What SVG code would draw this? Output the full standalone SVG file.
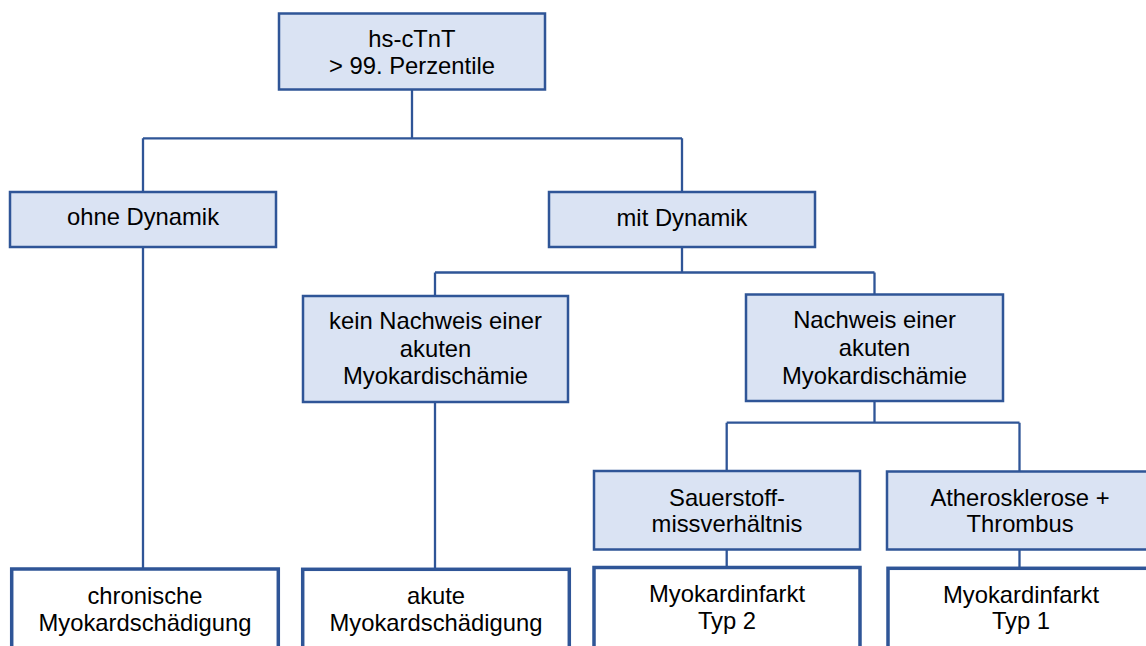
<svg xmlns="http://www.w3.org/2000/svg" width="1146" height="646" viewBox="0 0 1146 646">
<style>
.box{fill:#DAE3F3;stroke:#2F5597;stroke-width:2.5}
.res{fill:#FFFFFF;stroke:#2F5597;stroke-width:3.5}
.con{fill:none;stroke:#2F5597;stroke-width:2.3}
text{font-family:"Liberation Sans",Arial,sans-serif;font-size:23.8px;fill:#000;text-anchor:middle}
</style>
<rect width="1146" height="646" fill="#FFFFFF"/>
<g id="connectors">
<path class="con" d="M412 89.5 V138.3 M143 138.3 H682 M143 138.3 V192 M682 138.3 V192"/>
<path class="con" d="M143 247 V569"/>
<path class="con" d="M682 247 V272.5 M435 272.5 H874.5 M435 272.5 V296 M874.5 272.5 V294.5"/>
<path class="con" d="M435 402 V569"/>
<path class="con" d="M874.5 401 V422.7 M726.7 422.7 H1019.5 M726.7 422.7 V471 M1019.5 422.7 V471"/>
<path class="con" d="M726.7 549.5 V567.5 M1019.5 549.5 V568"/>
</g>
<g id="top">
<rect class="box" x="279" y="13.5" width="266" height="76"/>
<text x="412" y="46.7">hs-cTnT</text>
<text x="412" y="74">&gt; 99. Perzentile</text>
</g>
<g id="ohne">
<rect class="box" x="10" y="192" width="266" height="55"/>
<text x="143" y="225">ohne Dynamik</text>
</g>
<g id="mit">
<rect class="box" x="549" y="192" width="266" height="55"/>
<text x="682" y="226">mit Dynamik</text>
</g>
<g id="kein">
<rect class="box" x="303" y="296" width="265" height="106"/>
<text x="435.5" y="328.5">kein Nachweis einer</text>
<text x="435.5" y="356.5">akuten</text>
<text x="435.5" y="384">Myokardischämie</text>
</g>
<g id="nachweis">
<rect class="box" x="746" y="294.5" width="257" height="106.5"/>
<text x="874.5" y="328.3">Nachweis einer</text>
<text x="874.5" y="356">akuten</text>
<text x="874.5" y="383.5">Myokardischämie</text>
</g>
<g id="sauerstoff">
<rect class="box" x="594" y="471" width="266" height="78.5"/>
<text x="727" y="506">Sauerstoff-</text>
<text x="727" y="532">missverhältnis</text>
</g>
<g id="athero">
<rect class="box" x="887" y="471.5" width="266" height="78"/>
<text x="1020" y="506">Atherosklerose +</text>
<text x="1020" y="532">Thrombus</text>
</g>
<g id="chronisch">
<rect class="res" x="11.7" y="569" width="266.6" height="100"/>
<text x="145" y="604">chronische</text>
<text x="145" y="630.5">Myokardschädigung</text>
</g>
<g id="akut">
<rect class="res" x="302.7" y="569.3" width="266.6" height="100"/>
<text x="436" y="604">akute</text>
<text x="436" y="630.5">Myokardschädigung</text>
</g>
<g id="typ2">
<rect class="res" x="594" y="567.5" width="266" height="100"/>
<text x="727" y="602">Myokardinfarkt</text>
<text x="727" y="629">Typ 2</text>
</g>
<g id="typ1">
<rect class="res" x="888" y="568.3" width="266" height="100"/>
<text x="1021" y="602.5">Myokardinfarkt</text>
<text x="1021" y="629">Typ 1</text>
</g>
</svg>
